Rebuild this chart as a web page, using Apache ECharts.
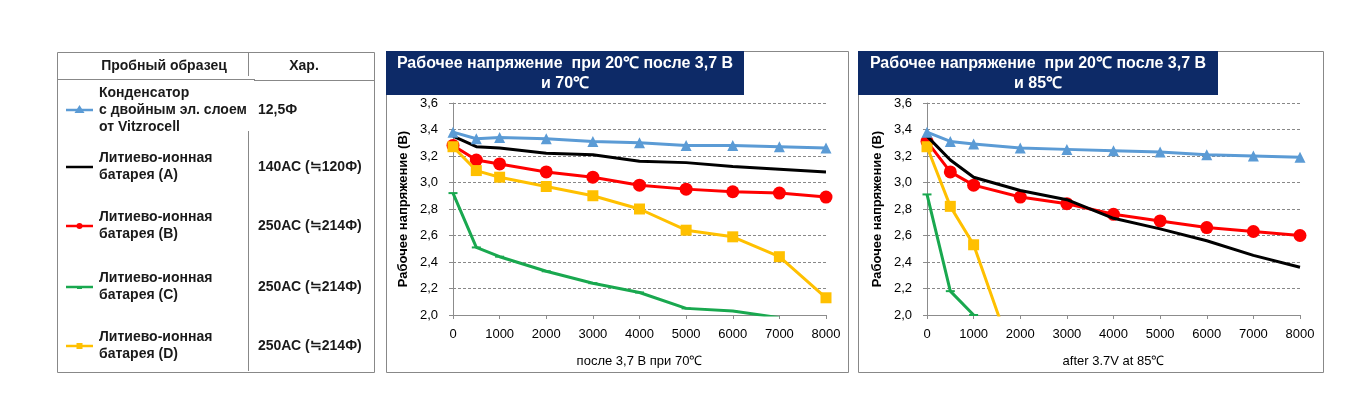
<!DOCTYPE html>
<html><head><meta charset="utf-8">
<script src="https://cdn.jsdelivr.net/npm/echarts@6/dist/echarts.min.js"></script>
<style>html,body{margin:0;padding:0;background:#fff}#c{width:1362px;height:408px}</style>
</head><body><div id="c"></div>
<script>
// ---- data ----
const xValues = [0, 500, 1000, 2000, 3000, 4000, 5000, 6000, 7000, 8000];
const xTicks = [0, 1000, 2000, 3000, 4000, 5000, 6000, 7000, 8000];
const yTicks = [2.0, 2.2, 2.4, 2.6, 2.8, 3.0, 3.2, 3.4, 3.6];

const seriesNames = ['Конденсатор\nс двойным эл. слоем\nот Vitzrocell', 'Литиево-ионная\nбатарея (A)', 'Литиево-ионная\nбатарея (B)', 'Литиево-ионная\nбатарея (C)', 'Литиево-ионная\nбатарея (D)'];
const seriesSpecs = ['12,5Ф', '140АС (≒120Ф)', '250АС (≒214Ф)', '250АС (≒214Ф)', '250АС (≒214Ф)'];

const blue70   = [3.38, 3.33, 3.34, 3.33, 3.31, 3.30, 3.28, 3.28, 3.27, 3.26];
const black70  = [3.35, 3.27, 3.26, 3.22, 3.21, 3.16, 3.15, 3.12, 3.10, 3.08];
const red70    = [3.28, 3.17, 3.14, 3.08, 3.04, 2.98, 2.95, 2.93, 2.92, 2.89];
const green70  = [2.92, 2.51, 2.44, 2.33, 2.24, 2.17, 2.05, 2.03, 1.98];
const yellow70 = [3.27, 3.09, 3.04, 2.97, 2.90, 2.80, 2.64, 2.59, 2.44, 2.13];

const blue85   = [3.38, 3.31, 3.29, 3.26, 3.25, 3.24, 3.23, 3.21, 3.20, 3.19];
const black85  = [3.35, 3.17, 3.04, 2.94, 2.87, 2.73, 2.65, 2.56, 2.45, 2.36];
const red85    = [3.31, 3.08, 2.98, 2.89, 2.84, 2.76, 2.71, 2.66, 2.63, 2.60];
const green85  = [2.91, 2.18, 2.00];
const yellow85 = [3.27, 2.82, 2.53, 1.53];

const titles = ['Рабочее напряжение  при 20℃ после 3,7 В\nи 70℃', 'Рабочее напряжение  при 20℃ после 3,7 В\nи 85℃'];
const xNames = ['после 3,7 В при 70℃', 'after 3.7V at 85℃'];
const yName = 'Рабочее напряжение (В)';

// ---- styles ----
const FONT = '"Liberation Sans", Arial, sans-serif';
const colors = ['#5b9bd5', '#000000', '#ff0000', '#19a84f', '#ffc000'];
const symbols = ['triangle', 'none', 'circle', 'rect', 'rect'];
const symbolSizes = [11, 0, 13, [9, 2], 11];
const drawOrder = [2, 4, 3, 1, 0]; // red, yellow, green, black, blue on top

function pairs(arr) { return arr.map((v, i) => [xValues[i], v]); }
const sets = [[blue70, black70, red70, green70, yellow70], [blue85, black85, red85, green85, yellow85]];

const series = [];
for (let g = 0; g < 2; g++) {
  drawOrder.forEach((k, zi) => {
    series.push({
      type: 'line', name: seriesNames[k], xAxisIndex: g, yAxisIndex: g,
      data: pairs(sets[g][k]), clip: true,
      symbol: symbols[k], symbolSize: symbolSizes[k], showSymbol: symbols[k] !== 'none',
      lineStyle: { color: colors[k], width: 3 },
      itemStyle: { color: colors[k] },
      z: 2 + zi, animation: false
    });
  });
}

const gridsPx = [{ left: 453, right: 1362 - 826, top: 103, height: 212 }, { left: 927, right: 1362 - 1300, top: 103, height: 212 }];

const xAxes = [0, 1].map(g => ({
  type: 'value', gridIndex: g, min: xTicks[0], max: xTicks[xTicks.length - 1], interval: xTicks[1] - xTicks[0],
  name: xNames[g], nameLocation: 'middle', nameGap: 40,
  nameTextStyle: { fontFamily: FONT, fontSize: 13, color: '#000' },
  axisLine: { lineStyle: { color: '#8c8c8c', width: 1 } },
  axisTick: { show: true, length: 4, lineStyle: { color: '#8c8c8c' } },
  axisLabel: { fontFamily: FONT, fontSize: 13, color: '#000', margin: 13, formatter: v => String(v) },
  splitLine: { show: false }
}));

const yAxes = [0, 1].map(g => ({
  type: 'value', gridIndex: g, min: yTicks[0], max: yTicks[yTicks.length - 1], interval: 0.2,
  name: yName, nameLocation: 'middle', nameGap: 43, nameRotate: 90,
  nameTextStyle: { fontFamily: FONT, fontSize: 13, fontWeight: 'bold', color: '#000' },
  axisLine: { show: true, lineStyle: { color: '#8c8c8c', width: 1 } },
  axisTick: { show: true, length: 4, lineStyle: { color: '#8c8c8c' } },
  axisLabel: { fontFamily: FONT, fontSize: 13, color: '#000', margin: 15, formatter: v => v.toFixed(1).replace('.', ',') },
  splitLine: { show: true, lineStyle: { color: '#888888', type: [3, 2], width: 1 } }
}));

// ---- graphic: panels, title boxes, legend table ----
const graphic = [];
const panels = [{ x: 386, w: 462, tx: 386, tw: 358 }, { x: 858, w: 465, tx: 858, tw: 360 }];
panels.forEach((p, g) => {
  graphic.push({ type: 'rect', shape: { x: p.x + 0.5, y: 51.5, width: p.w, height: 321 }, style: { fill: 'none', stroke: '#888', lineWidth: 1 }, z: 0 });
  graphic.push({ type: 'rect', shape: { x: p.tx, y: 51, width: p.tw, height: 44 }, style: { fill: '#0d2a67' }, z: 1 });
  graphic.push({ type: 'text', x: p.tx + p.tw / 2, y: 74, style: { text: titles[g], fill: '#fff', font: 'bold 16px ' + FONT, textAlign: 'center', textVerticalAlign: 'middle', lineHeight: 20 }, z: 2 });
});

// legend table
graphic.push({ type: 'rect', shape: { x: 57.5, y: 52.5, width: 317, height: 320 }, style: { fill: 'none', stroke: '#888', lineWidth: 1 } });
graphic.push({ type: 'line', shape: { x1: 57, y1: 79.5, x2: 255, y2: 79.5 }, style: { stroke: '#888', lineWidth: 1 } });
graphic.push({ type: 'line', shape: { x1: 254, y1: 80.5, x2: 374, y2: 80.5 }, style: { stroke: '#888', lineWidth: 1 } });
graphic.push({ type: 'line', shape: { x1: 248.5, y1: 53, x2: 248.5, y2: 76 }, style: { stroke: '#888', lineWidth: 1 } });
graphic.push({ type: 'line', shape: { x1: 248.5, y1: 131, x2: 248.5, y2: 371 }, style: { stroke: '#888', lineWidth: 1 } });
graphic.push({ type: 'text', x: 164, y: 66, style: { text: 'Пробный образец', fill: '#1a1a1a', font: 'bold 14px ' + FONT, textAlign: 'center', textVerticalAlign: 'middle' } });
graphic.push({ type: 'text', x: 304, y: 66, style: { text: 'Хар.', fill: '#1a1a1a', font: 'bold 14px ' + FONT, textAlign: 'center', textVerticalAlign: 'middle' } });

const rowY = [110, 167, 226, 287, 346];
seriesNames.forEach((nm, k) => {
  const y = rowY[k];
  graphic.push({ type: 'line', shape: { x1: 66, y1: y, x2: 93, y2: y }, style: { stroke: colors[k], lineWidth: 2.5 } });
  if (symbols[k] === 'triangle') {
    graphic.push({ type: 'polygon', shape: { points: [[79.5, y - 5], [74.5, y + 3], [84.5, y + 3]] }, style: { fill: colors[k] } });
  } else if (symbols[k] === 'circle') {
    graphic.push({ type: 'circle', shape: { cx: 79.5, cy: y, r: 3 }, style: { fill: colors[k] } });
  } else if (k === 4) {
    graphic.push({ type: 'rect', shape: { x: 76.5, y: y - 3, width: 6, height: 6 }, style: { fill: colors[k] } });
  } else if (k === 3) {
    graphic.push({ type: 'rect', shape: { x: 77, y: y - 1, width: 5, height: 3 }, style: { fill: colors[k] } });
  }
  graphic.push({ type: 'text', x: 99, y: y, style: { text: nm, fill: '#1a1a1a', font: 'bold 14px ' + FONT, textAlign: 'left', textVerticalAlign: 'middle', lineHeight: 17 } });
  graphic.push({ type: 'text', x: 258, y: y, style: { text: seriesSpecs[k], fill: '#1a1a1a', font: 'bold 14px ' + FONT, textAlign: 'left', textVerticalAlign: 'middle' } });
});

const chart = echarts.init(document.getElementById('c'), null, { renderer: 'canvas' });
chart.setOption({
  animation: false,
  backgroundColor: '#fff',
  grid: gridsPx,
  xAxis: xAxes,
  yAxis: yAxes,
  series: series,
  graphic: graphic
});
</script>
</body></html>
